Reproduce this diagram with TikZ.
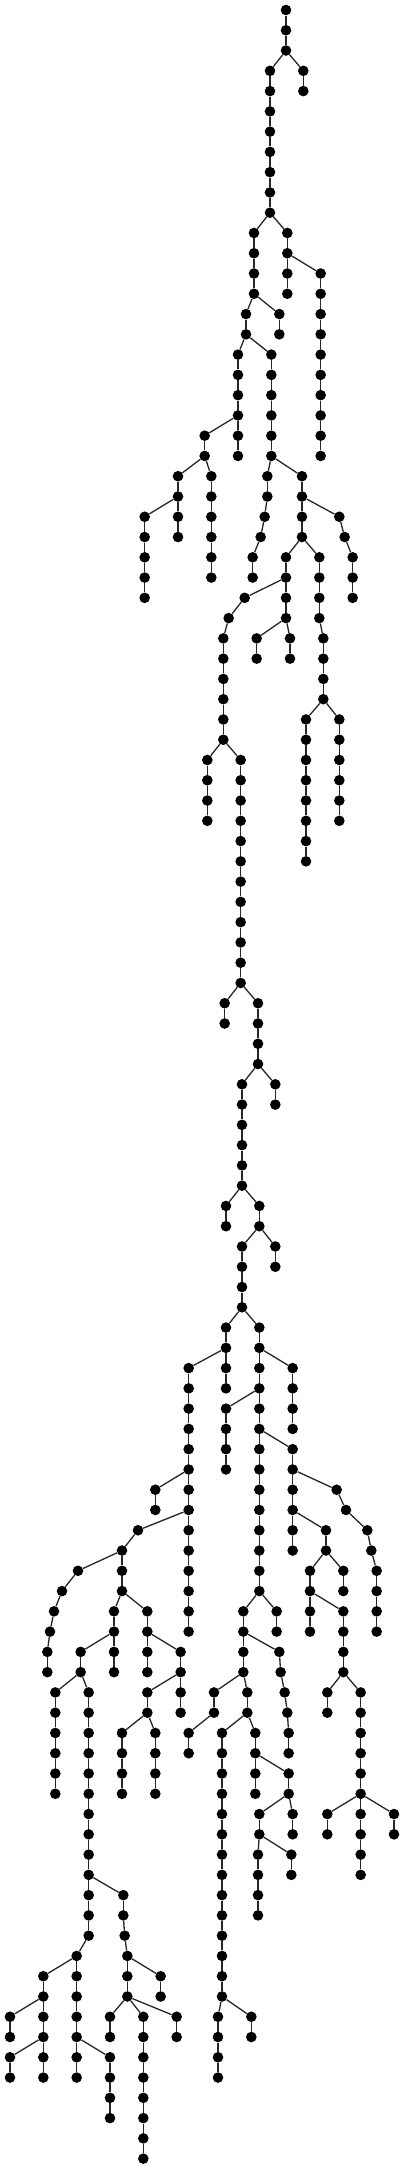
\documentclass[tikz,border=0pt]{standalone}
\begin{document}
\begin{tikzpicture}[x={(0.33333pt,0)}, y={(0,-20.27pt)},
  dot/.style={circle, fill=black, draw=none, minimum size=10.6pt, inner sep=0pt},
  edge/.style={draw=black!85, line width=1.3pt}]
\useasboundingbox[fill=white] (0pt,0pt) rectangle (404pt,-2169pt);
\def\chains{858/0/2, 910/3/4, 810/3/10, 762/11/14, 862/11/14, 962/13/22, 738/15/16, 838/15/16, 714/17/22, 814/17/22, 614/21/22, 534/23/26, 634/23/28, 802/23/24, 794/25/25, 782/26/26, 758/27/28, 906/23/26, 1018/25/25, 1034/26/26, 1058/27/29, 434/25/29, 858/27/30, 958/27/30, 734/29/29, 686/30/30, 670/31/36, 770/31/32, 870/31/32, 970/31/34, 622/37/40, 722/37/48, 918/35/42, 1018/35/40, 674/49/50, 774/49/52, 726/53/58, 826/53/54, 678/59/60, 778/59/60, 726/61/64, 826/61/62, 678/65/68, 778/65/78, 566/67/80, 878/67/70, 678/69/72, 878/71/76, 466/73/74, 1010/73/73, 1038/74/74, 1102/75/75, 1114/76/76, 1130/77/80, 978/75/76, 930/77/80, 1030/77/78, 1030/79/82, 414/75/75, 366/76/78, 234/77/77, 186/78/78, 162/79/79, 150/80/80, 142/81/82, 342/79/82, 442/79/82, 730/79/82, 830/79/80, 242/81/82, 542/81/84, 838/81/81, 842/82/82, 854/83/83, 862/84/84, 866/85/86, 166/83/88, 266/83/95, 442/83/84, 642/83/84, 742/83/84, 982/83/84, 1082/83/92, 366/85/88, 466/85/88, 566/85/86, 666/85/98, 766/85/88, 866/87/88, 778/89/90, 878/89/90, 982/89/90, 1182/89/90, 774/91/94, 874/91/92, 370/93/94, 374/95/95, 382/96/98, 230/96/102, 130/97/102, 482/97/98, 30/99/100, 330/99/100, 430/99/106, 530/99/100, 654/99/102, 754/99/100, 30/101/102, 330/101/104}
\def\links{858/2/810, 858/2/910, 810/10/762, 810/10/862, 862/12/962, 762/14/738, 762/14/838, 738/16/714, 738/16/814, 714/20/614, 614/22/534, 614/22/634, 814/22/802, 814/22/906, 802/24/794, 794/25/782, 782/26/758, 906/24/1018, 1018/25/1034, 1034/26/1058, 534/24/434, 906/26/858, 906/26/958, 858/28/734, 734/29/686, 686/30/670, 858/30/770, 858/30/870, 958/30/970, 670/36/622, 670/36/722, 970/34/918, 970/34/1018, 722/48/674, 722/48/774, 774/52/726, 774/52/826, 726/58/678, 726/58/778, 778/60/726, 778/60/826, 726/64/678, 726/64/778, 678/66/566, 778/66/878, 778/68/678, 778/70/878, 566/72/466, 878/72/1010, 1010/73/1038, 1038/74/1102, 1102/75/1114, 1114/76/1130, 878/74/978, 978/76/930, 978/76/1030, 930/78/1030, 566/74/414, 414/75/366, 366/76/234, 234/77/186, 186/78/162, 162/79/150, 150/80/142, 366/78/342, 366/78/442, 778/78/730, 778/78/830, 342/80/242, 242/82/166, 242/82/266, 442/80/542, 542/82/442, 442/84/366, 442/84/466, 730/80/838, 838/81/842, 842/82/854, 854/83/862, 862/84/866, 730/82/642, 730/82/742, 642/84/566, 742/84/666, 742/84/766, 766/86/866, 1030/82/982, 1030/82/1082, 866/88/778, 866/88/878, 1082/88/982, 1082/88/1182, 778/90/774, 778/90/874, 266/92/370, 370/94/374, 374/95/382, 266/95/230, 382/96/482, 230/96/130, 382/98/330, 382/98/430, 382/98/530, 130/98/30, 230/100/330, 130/100/30, 666/98/654, 666/98/754}
\begin{scope}[yshift=-10pt]
\foreach \X/\A/\B in \chains {
  \foreach \K in {\A,...,\B} { \node[dot] (n\X-\K) at (\X,\K) {}; }
}
\foreach \X/\A/\B in \chains {
  \ifnum\A<\B
    \pgfmathtruncatemacro\Bm{\B-1}
    \foreach \K in {\A,...,\Bm} {
      \pgfmathtruncatemacro\Kn{\K+1}
      \draw[edge] (n\X-\K) -- (n\X-\Kn);
    }
  \fi
}
\foreach \X/\K/\Y in \links {
  \pgfmathtruncatemacro\Kn{\K+1}
  \draw[edge] (n\X-\K) -- (n\Y-\Kn);
}
\end{scope}
\end{tikzpicture}
\end{document}
